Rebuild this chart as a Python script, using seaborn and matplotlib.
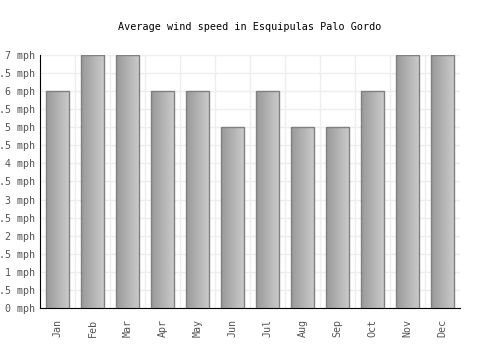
import numpy as np
import pandas as pd
import matplotlib
matplotlib.use("Agg")
import matplotlib.pyplot as plt
import seaborn as sns

# --- DATA ---
months = ["Jan", "Feb", "Mar", "Apr", "May", "Jun",
          "Jul", "Aug", "Sep", "Oct", "Nov", "Dec"]
wind_mph = [6, 7, 7, 6, 6, 5, 6, 5, 5, 6, 7, 7]
y_ticks = [0, 0.5, 1, 1.5, 2, 2.5, 3, 3.5, 4, 4.5, 5, 5.5, 6, 6.5, 7]

df = pd.DataFrame({"month": months, "wind": wind_mph})

sns.set_style("white")
plt.rcParams["font.family"] = ["DejaVu Sans Mono"]

fig = plt.figure(figsize=(5, 3.5), dpi=100)
ax = fig.add_axes([0.08, 0.12, 0.84, 0.723])

sns.barplot(x="month", y="wind", data=df, ax=ax, width=0.66,
            color="#b0b0b0", edgecolor="#808080", linewidth=1, zorder=3)

# gradient fill, dark left -> light right, clipped to each bar
grad = np.linspace(0, 1, 64).reshape(1, -1)
cmap = matplotlib.colors.LinearSegmentedColormap.from_list("g", ["#999999", "#cccccc"])
for p in ax.patches:
    x0, w, h = p.get_x(), p.get_width(), p.get_height()
    im = ax.imshow(grad, extent=[x0, x0 + w, 0, h], aspect="auto",
                   cmap=cmap, zorder=3.5, origin="lower")
    im.set_clip_path(p)
    p.set_facecolor("none")
    p.set_zorder(4)

ax.set_xlim(-0.5, len(months) - 0.5)
ax.set_ylim(0, 7)
ax.set_yticks(y_ticks)
ax.set_yticklabels([f"{t:g} mph" for t in y_ticks])
ax.set_xticks(range(len(months)))
ax.set_xticklabels(months, rotation=90)

# grid: horizontal at ticks, vertical at category boundaries
for t in y_ticks:
    ax.axhline(t, color="#eeeeee", lw=1, zorder=1)
for b in np.arange(0.5, len(months) - 0.5, 1):
    ax.axvline(b, color="#eeeeee", lw=1, zorder=1)

ax.tick_params(axis="both", length=0, labelsize=7.2, colors="#555555")
ax.tick_params(axis="x", pad=8)
ax.tick_params(axis="y", pad=3.5)
for s in ["top", "right"]:
    ax.spines[s].set_visible(False)
ax.spines["left"].set_color("black")
ax.spines["bottom"].set_color("black")
ax.set_xlabel("")
ax.set_ylabel("")

fig.text(0.5, 0.922, "Average wind speed in Esquipulas Palo Gordo",
         ha="center", va="center", fontsize=7.3, color="black")

fig.savefig("out.png", dpi=100)
